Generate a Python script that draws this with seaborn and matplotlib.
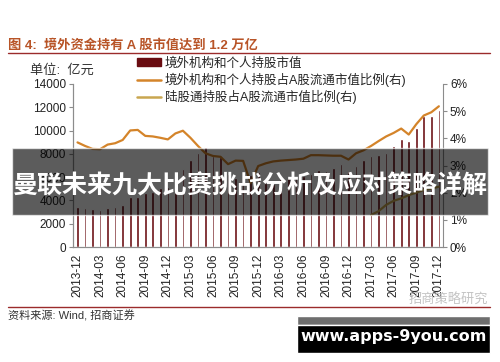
import pandas as pd
import seaborn as sns
import matplotlib.pyplot as plt
import numpy as np
from matplotlib.patches import Rectangle, Patch
from matplotlib.lines import Line2D

# month labels 2013-12 .. 2017-12
months = [d.strftime('%Y-%m') for d in pd.date_range('2013-12-01', '2017-12-01', freq='MS')]

# 境外机构和个人持股市值 (亿元)
holding_value = [3460, 3320, 3260, 3180, 3380, 3440, 3610, 4270, 4300, 4610,
                 4750, 5040, 5180, 5900, 6670, 7470, 8050, 8560, 7850, 7700,
                 6300, 5900, 6000, 6200, 6400, 5500, 5400, 5800, 5900, 6000,
                 6100, 6300, 6610, 6530, 6760, 7110, 6500, 6980, 7470, 7790,
                 7930, 8080, 8690, 9260, 9100, 10220, 11250, 11220, 11740]

# 境外机构和个人持股占A股流通市值比例 (%)
holding_pct = [3.85, 3.72, 3.61, 3.60, 3.77, 3.82, 3.94, 4.29, 4.31, 4.09,
               4.07, 4.02, 3.96, 4.18, 4.28, 4.02, 3.72, 3.45, 3.35, 3.32,
               3.05, 3.18, 3.17, 2.35, 2.98, 3.08, 3.15, 3.18, 3.20, 3.22,
               3.25, 3.38, 3.38, 3.37, 3.36, 3.36, 3.22, 3.45, 3.56, 3.72,
               3.90, 4.07, 4.20, 4.36, 4.14, 4.52, 4.84, 4.96, 5.18]

# 陆股通持股占A股流通市值比例 (%), starts 2017-03
connect_pct = [np.nan] * 39 + [1.18, 1.32, 1.55, 1.70, 1.79, 1.91, 2.00, 2.10, 2.15, 2.22]

labels = ['境外机构和个人持股市值',
          '境外机构和个人持股占A股流通市值比例(右)',
          '陆股通持股占A股流通市值比例(右)']

bar_color = '#6A0D12'
orange = '#D4842A'
gold = '#C9A650'


def myplot():
	sns.set_theme(style='white')
	plt.rcParams['font.family'] = ['Liberation Sans', 'Noto Sans CJK SC', 'DejaVu Sans']

	fig = plt.figure(figsize=(5, 3.62), dpi=100)
	ax = fig.add_axes([73/500, 1-247/362, 370/500, 163/362])

	df = pd.DataFrame({'month': months, 'value': holding_value})
	sns.barplot(data=df, x='month', y='value', color=bar_color, saturation=1,
				width=0.35, ax=ax, order=months)

	ax2 = ax.twinx()
	x = np.arange(len(months))
	sns.lineplot(x=x, y=holding_pct, ax=ax2, color=orange, lw=1.6)
	sns.lineplot(x=x, y=connect_pct, ax=ax2, color=gold, lw=1.6)

	ax.set_xlim(-0.6, 48.55)
	ax.set_ylim(0, 14000)
	ax.set_yticks(range(0, 14001, 2000))
	ax2.set_ylim(0, 6)
	ax2.set_yticks(range(0, 7))
	ax2.set_yticklabels([f'{v}%' for v in range(0, 7)])
	ax.set_xticks(range(0, 49, 3))
	ax.set_xticklabels(months[::3], rotation=90)
	ax.set_xlabel('')
	ax.set_ylabel('')
	ax2.set_ylabel('')

	for a in (ax, ax2):
		for s in a.spines.values():
			s.set_color('#8c8c8c')
			s.set_linewidth(0.8)
		a.spines['top'].set_visible(False)
		a.tick_params(labelsize=8.5, colors='#222222', length=3, width=0.8, pad=2)
	ax.tick_params(axis='both', color='#8c8c8c')
	ax2.tick_params(axis='y', color='#8c8c8c')
	ax.spines['right'].set_visible(False)

	# title and rules
	fig.text(8/500, 1-45/362, '图 4:  境外资金持有 A 股市值达到 1.2 万亿', fontsize=9.5,
			 fontweight='bold', color='#B85427', va='center')
	fig.add_artist(Line2D([8/500, 490/500], [1-53/362, 1-53/362], transform=fig.transFigure,
						  color='#9B2B2B', lw=1))
	fig.add_artist(Line2D([8/500, 490/500], [1-307/362, 1-307/362], transform=fig.transFigure,
						  color='#9B2B2B', lw=1))
	fig.text(30/500, 1-70/362, '单位:  亿元', fontsize=9.5, color='#333333', va='center')
	fig.text(8/500, 1-316/362, '资料来源: Wind, 招商证券', fontsize=8, color='#333333', va='center')

	handles = [Patch(facecolor=bar_color, edgecolor=bar_color),
			   Line2D([], [], color=orange, lw=1.8),
			   Line2D([], [], color=gold, lw=1.8)]
	fig.legend(handles, labels, loc='upper left', bbox_to_anchor=(137/500, 1-57/362),
			   frameon=False, fontsize=9, handlelength=1.9, handleheight=0.5,
			   handletextpad=0.3, labelspacing=0.25, borderpad=0, borderaxespad=0)

	# watermark
	fig.text(488/500, 1-300/362, '招商策略研究', fontsize=9.5, color='#c4c4c4',
			 ha='right', va='center')

	# overlay banner
	fig.patches.append(Rectangle((12/500, 1-215/362), 476/500, 67/362, transform=fig.transFigure,
								 facecolor='black', alpha=0.64, zorder=10))
	fig.text(0.5, 1-186/362, '曼联未来九大比赛挑战分析及应对策略详解', fontsize=18,
			 fontweight='bold', color='white', ha='center', va='center', zorder=11)

	# site box
	fig.patches.append(Rectangle((297/500, 1-325/362), 193/500, 9/362, transform=fig.transFigure,
								 facecolor='#6e6e6e', zorder=10))
	fig.patches.append(Rectangle((297/500, 1-353/362), 193/500, 28/362, transform=fig.transFigure,
								 facecolor='black', zorder=10))
	fig.text(394/500, 1-337/362, 'www.apps-9you.com', fontsize=11.5, fontweight='bold',
			 family='DejaVu Sans', color='white', ha='center', va='center', zorder=11)

	plt.savefig('out.png', dpi=100)


myplot()
